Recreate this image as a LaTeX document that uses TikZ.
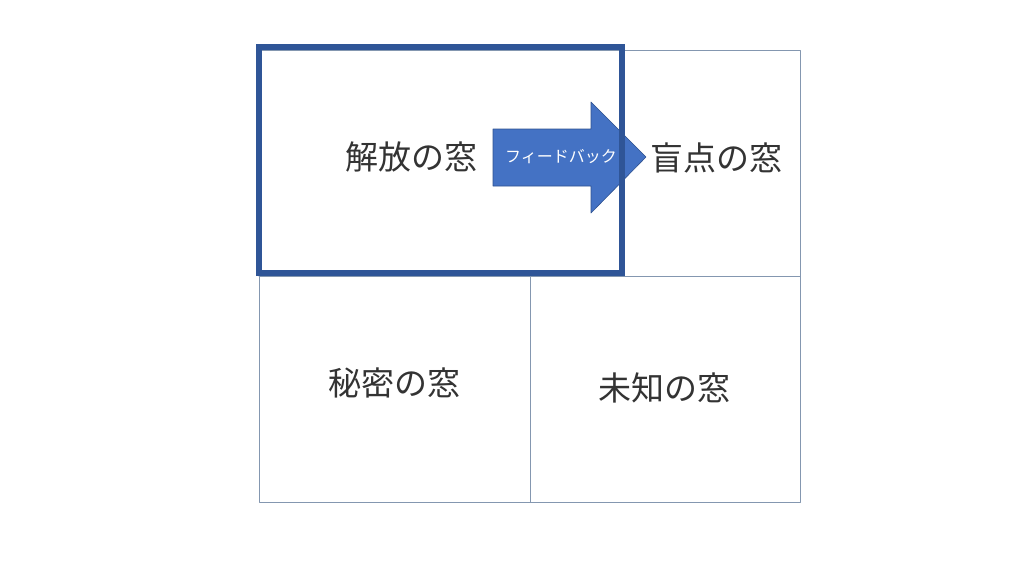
\documentclass[tikz,border=0pt]{standalone}
\usepackage{fontspec}
\newfontfamily\jp{Noto Sans CJK JP}
\definecolor{gridline}{RGB}{132,151,176}
\definecolor{openblue}{RGB}{47,85,151}
\definecolor{fbfill}{RGB}{68,114,196}
\definecolor{fbline}{RGB}{47,82,143}
\begin{document}
\begin{tikzpicture}[x=1pt, y=-1pt, font=\jp\fontsize{33}{36}\selectfont, line cap=round, line join=round,
  thin line/.style={draw=gridline, line width=1pt},
  window/.style={text=black!80, inner sep=0pt}]
\useasboundingbox (0,0) rectangle (1024,576);
% grid
\draw[thin line] (259,50) rectangle (800,502);
\draw[thin line] (259,276)--(800,276);
\draw[thin line] (622,50)--(622,276);
\draw[thin line] (530,276)--(530,502);
% arrow
\draw[fill=fbfill, draw=fbline, line width=0.6pt] (493,129)--(591,129)--(591,102)--(646,157)--(591,213)--(591,186)--(493,186)--cycle;
\node[text=white, inner sep=0pt, font=\jp\fontsize{16}{18}\selectfont] (fb) at (561,157) {フィードバック};
% open window
\draw[draw=openblue, line width=6pt, line cap=butt, line join=miter] (259,47) rectangle (622,273);
\node[window] (open) at (411,157) {解放の窓};
\node[window] (blind) at (716,158) {盲点の窓};
\node[window] (hidden) at (394,383) {秘密の窓};
\node[window] (unknown) at (664,388) {未知の窓};
\end{tikzpicture}
\end{document}
